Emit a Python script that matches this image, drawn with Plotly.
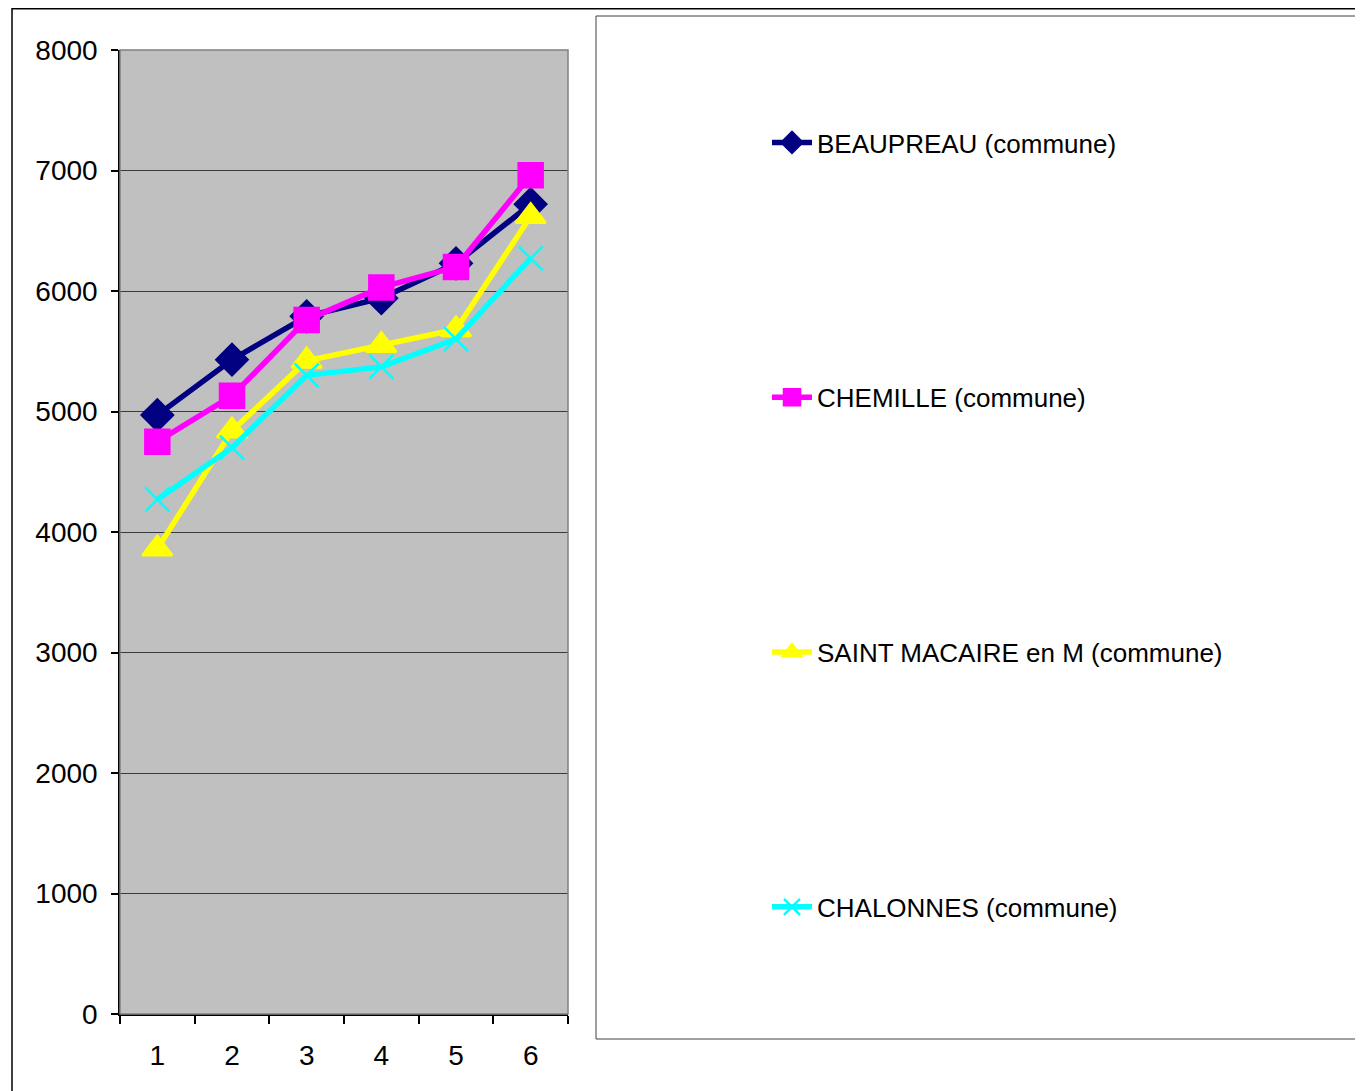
import plotly.graph_objects as go

categories = [1, 2, 3, 4, 5, 6]
beaupreau = [4970, 5430, 5790, 5940, 6230, 6720]
chemille = [4750, 5130, 5760, 6030, 6200, 6960]
saint_macaire = [3860, 4840, 5420, 5550, 5680, 6620]
chalonnes = [4270, 4700, 5300, 5370, 5600, 6270]
series_names = ["BEAUPREAU (commune)", "CHEMILLE (commune)",
                "SAINT MACAIRE en M (commune)", "CHALONNES (commune)"]
y_ticks = [0, 1000, 2000, 3000, 4000, 5000, 6000, 7000, 8000]

OFF = 8  # page body margin
W, H = 1363 - OFF, 1091 - OFF
# plot area in page pixels
PL, PR, PT, PB = 120, 568, 50, 1014
L, R, T, B = PL - OFF, PR - OFF, PT - OFF, PB - OFF


def px_x(p):
    return (p - PL) / (PR - PL)


def px_y(p):
    return (PB - p) / (PB - PT)


fig = go.Figure()
styles = [
    (beaupreau, "#000080", "diamond", 24, 1),
    (chemille, "#FF00FF", "square", 24, 2),
    (saint_macaire, "#FFFF00", "triangle-up", 26, 3),
    (chalonnes, "#00FFFF", "x-thin", 24, 4),
]
for (vals, col, sym, sz, g), name in zip(styles, series_names):
    fig.add_trace(go.Scatter(
        x=categories, y=vals, name=name, mode="lines+markers",
        line=dict(color=col, width=5.5),
        marker=dict(symbol=sym, size=sz, color=col,
                    line=dict(color=col, width=2.5)),
        legendgroup=str(g),
    ))

shapes = [
    # outer chart border
    dict(type="rect", xref="paper", yref="paper",
         x0=px_x(12), x1=px_x(1380), y0=px_y(8.8), y1=px_y(1110),
         line=dict(color="black", width=1.5), layer="below"),
    # legend box
    dict(type="rect", xref="paper", yref="paper",
         x0=px_x(596), x1=px_x(1380), y0=px_y(16), y1=px_y(1039),
         line=dict(color="#404040", width=1), layer="below"),
    # plot area border
    dict(type="rect", xref="paper", yref="paper",
         x0=0, x1=1, y0=0, y1=1,
         line=dict(color="#808080", width=1.5), layer="above"),
]

fig.update_layout(
    width=W, height=H,
    margin=dict(l=L, r=W - R, t=T, b=H - B),
    paper_bgcolor="white",
    plot_bgcolor="#C0C0C0",
    font=dict(family="Liberation Sans, Arial, sans-serif", size=28, color="black"),
    shapes=shapes,
    showlegend=True,
    legend=dict(
        x=px_x(767), y=px_y(119), xanchor="left", yanchor="top",
        bgcolor="rgba(0,0,0,0)", borderwidth=0,
        font=dict(size=26, color="black"),
        traceorder="grouped", tracegroupgap=218,
        itemwidth=40,
    ),
    xaxis=dict(
        range=[0.5, 6.5], tickvals=categories, ticktext=[str(c) for c in categories],
        showgrid=False, zeroline=False,
        showline=True, linecolor="black", linewidth=1.5,
        ticks="outside", ticklen=16, tickcolor="rgba(0,0,0,0)",
        minor=dict(tickvals=[0.5, 1.5, 2.5, 3.5, 4.5, 5.5, 6.5],
                   ticks="outside", ticklen=8, tickcolor="black", tickwidth=1.5,
                   showgrid=False),
        tickfont=dict(size=28),
    ),
    yaxis=dict(
        range=[0, 8000], tickvals=y_ticks, ticktext=[str(v) for v in y_ticks],
        showgrid=True, gridcolor="#3a3a3a", gridwidth=1,
        zeroline=False,
        showline=True, linecolor="black", linewidth=1.5,
        ticks="outside", ticklen=7, tickcolor="black", tickwidth=1.5,
        ticklabelstandoff=8,
        tickfont=dict(size=28),
    ),
)

fig.write_html("out.html")
